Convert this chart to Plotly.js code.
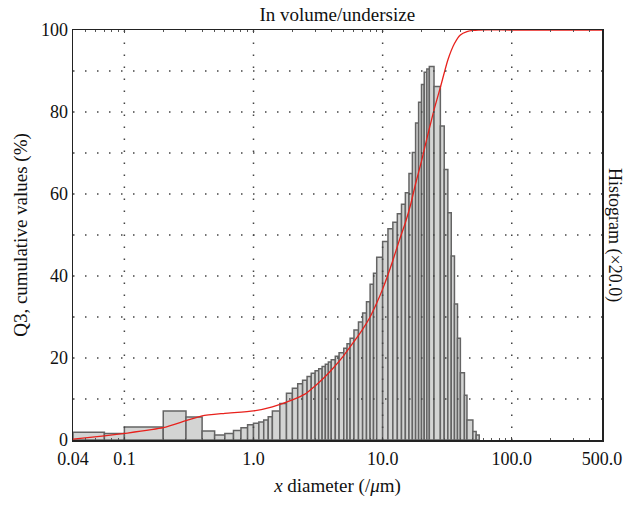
<!DOCTYPE html>
<html>
<head>
<meta charset="utf-8">
<script src="https://cdn.plot.ly/plotly-3.0.1.min.js"></script>
<style>html,body{margin:0;padding:0;background:#fff;}#chart{width:627px;height:506px;}</style>
</head>
<body>
<div id="chart"></div>
<script>
// Histogram class edges (µm)
const binEdges = [0.04,0.07,0.1,0.2,0.3,0.4,0.5,0.6,0.7,0.8,0.9,
  1.0,1.1,1.2,1.3,1.4,1.6,1.8,2.0,2.2,2.4,2.6,2.8,
  3.0,3.2,3.4,3.6,3.8,4.0,4.3,4.6,5.0,5.3,5.6,6.0,6.5,7.0,7.5,8.0,8.5,9.0,
  10,11,12,13,14,15,16,17,18,19,20,21,22,23,
  25,28,30,32,34,36,38,40,43,45,50,53,56];
// Histogram heights (×20.0, on the left scale)
const histValues = [1.9,1.6,3.2,7.1,5.6,2.2,1.2,1.6,2.3,3.0,3.7,
  4.1,4.4,4.9,5.7,7.1,8.9,11.4,12.6,13.7,14.6,15.5,16.3,
  16.9,17.4,17.9,18.5,19.0,19.6,20.4,21.3,22.4,23.5,24.8,26.8,28.8,31.0,33.7,38.0,40.7,44.6,
  48.4,51.5,53.1,55.2,57.5,60.3,65.0,70.1,77.3,82.4,86.7,89.7,90.5,
  91.1,86.2,76.6,66.0,55.4,44.9,33.2,24.8,16.4,10.9,4.9,2.1,1.2];
// Cumulative Q3 curve
const cumX = [0.04,0.07,0.1,0.2,0.3,0.4,0.6,1.0,1.4,2.0,2.5,3.0,3.5,4.0,5.0,6.0,7.0,8.0,9.0,10,11,12,13.5,15,16.5,18,20,22,25,28,32,36,40,45,50,55,100,500];
const cumY = [0.2,1.0,1.6,3.0,4.7,5.9,6.5,7.1,8.1,9.8,11.2,13.2,15.1,17.0,20.6,24.0,27.0,30.0,33.4,36.8,40.3,43.8,48.8,53.0,57.5,62.5,68.0,73.5,80.5,86.0,92.7,96.7,98.8,99.6,99.9,100,100,100];
const xTickVals = [0.04,0.1,1,10,100,500];
const xTickText = ['0.04','0.1','1.0','10.0','100.0','500.0'];
const yTickVals = [0,10,20,30,40,50,60,70,80,90,100];
const yTickText = ['0','','20','','40','','60','','80','','100'];
const gridY = [10,20,30,40,50,60,70,80,90];
const gridX = [0.1,1,10,100];

const centers = [], widths = [];
for (let i = 0; i < histValues.length; i++) {
  centers.push((binEdges[i] + binEdges[i+1]) / 2);
  widths.push(binEdges[i+1] - binEdges[i]);
}

const FONT = 'Liberation Serif, Times New Roman, serif';
const dotLine = {color: '#444', width: 1.5, dash: '1.5px,10.5px'};
const shapes = [];
gridY.forEach(v => shapes.push({type:'line', xref:'paper', yref:'y', x0:0, x1:1, y0:v, y1:v, line: dotLine, layer:'above'}));
gridX.forEach(v => shapes.push({type:'line', xref:'x', yref:'paper', x0:v, x1:v, y0:0, y1:1, line: dotLine, layer:'above'}));

const traces = [
  {type:'bar', x: centers, y: histValues, width: widths, base: 0,
   marker:{color:'#d3d4d3', line:{color:'#646464', width:1.5}}, hoverinfo:'skip'},
  {type:'scatter', mode:'lines', x: cumX, y: cumY,
   line:{color:'#e8211c', width:1.3, shape:'spline', smoothing:0.6}, hoverinfo:'skip'}
];

const layout = {
  width: 627, height: 506,
  margin: {l:73, r:25, t:30, b:66},
  paper_bgcolor:'#fff', plot_bgcolor:'#fff',
  showlegend:false,
  font:{family: FONT, size:18, color:'#111'},
  title:{text:'In volume/undersize', x:0.538, xanchor:'center', y:0.972, yanchor:'middle', font:{family:FONT, size:19, color:'#111'}},
  xaxis:{type:'log', range:[Math.log10(0.04), Math.log10(500)], tickvals:xTickVals, ticktext:xTickText,
    showgrid:false, zeroline:false, showline:true, linecolor:'#222', linewidth:1.5, mirror:'allticks',
    ticks:'inside', ticklen:3, tickcolor:'#444', tickfont:{family:FONT, size:18, color:'#111'},
    ticklabelstandoff:2,
    minor:{ticks:'inside', ticklen:2, tickcolor:'#555', dtick:'D1'},
    title:{text:'<i>x</i> diameter (/<i>μ</i>m)', font:{family:FONT, size:19, color:'#111'}, standoff:10}},
  yaxis:{range:[0,100], tickvals:yTickVals, ticktext:yTickText, showgrid:false, zeroline:false,
    showline:true, linecolor:'#222', linewidth:1.5, mirror:true, ticks:'',
    tickfont:{family:FONT, size:18, color:'#111'},
    title:{text:'Q3, cumulative values (%)', font:{family:FONT, size:19, color:'#111'}, standoff:8}},
  bargap:0,
  shapes: shapes,
  annotations:[{text:'Histogram (×20.0)', xref:'paper', yref:'paper', x:1, y:0.5, xanchor:'center', yanchor:'middle',
    xshift:13, textangle:90, showarrow:false, font:{family:FONT, size:18, color:'#111'}}]
};

Plotly.newPlot('chart', traces, layout, {staticPlot:true, displayModeBar:false});
</script>
</body>
</html>
